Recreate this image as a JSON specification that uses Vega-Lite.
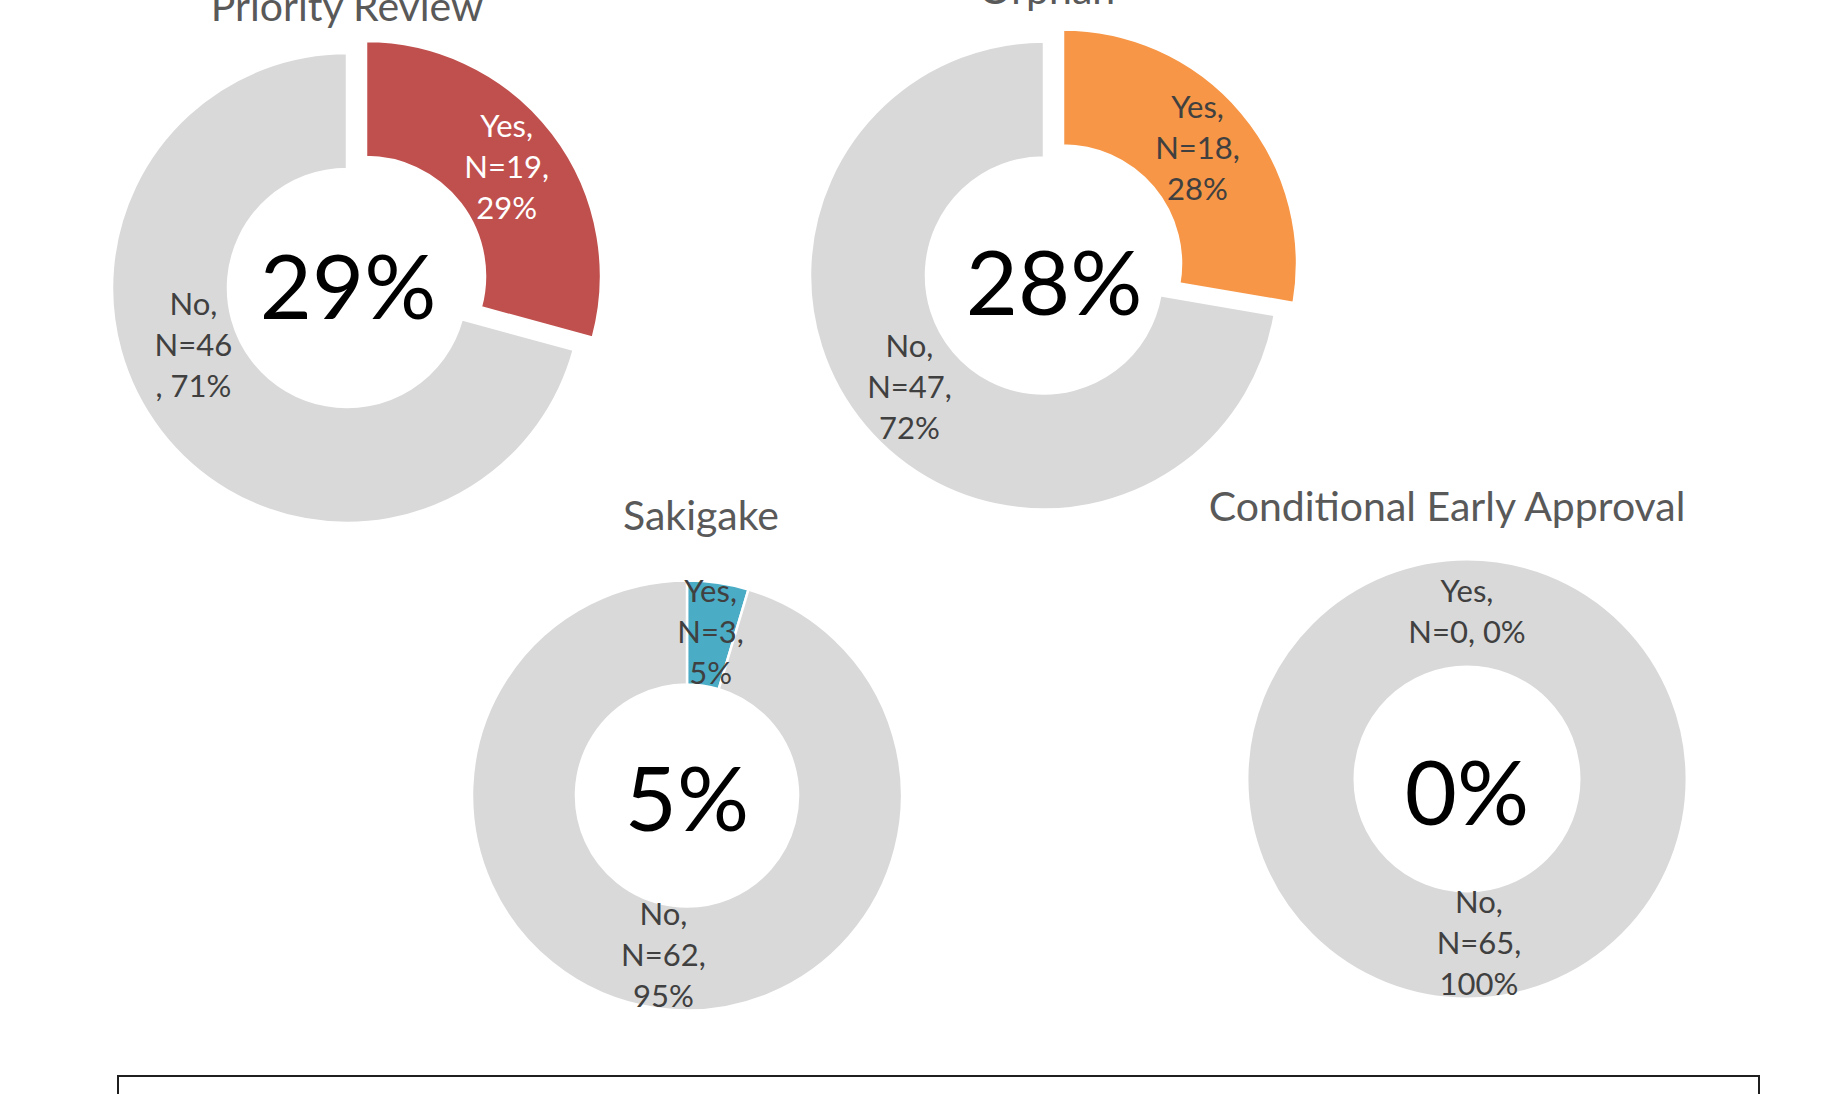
{
  "$schema": "https://vega.github.io/schema/vega-lite/v6.json",
  "padding": {"left": 0, "top": -30, "right": 0, "bottom": 0},
  "background": "#ffffff",
  "config": {
    "view": {"stroke": null},
    "font": "Lato",
    "title": {"font": "Lato", "fontSize": 41, "fontWeight": "normal", "color": "#595959", "baseline": "alphabetic", "anchor": "middle", "frame": "group"},
    "text": {"font": "Lato"}
  },
  "datasets": {
    "pr": [
      {"cat": "Yes", "n": 19, "label": "Yes,\nN=19,\n29%", "center": "29%"},
      {"cat": "No", "n": 46, "label": "No,\nN=46\n, 71%", "center": ""}
    ],
    "orphan": [
      {"cat": "Yes", "n": 18, "label": "Yes,\nN=18,\n28%", "center": "28%"},
      {"cat": "No", "n": 47, "label": "No,\nN=47,\n72%", "center": ""}
    ],
    "saki": [
      {"cat": "Yes", "n": 3, "label": "Yes,\nN=3,\n5%", "center": "5%"},
      {"cat": "No", "n": 62, "label": "No,\nN=62,\n95%", "center": ""}
    ],
    "cea": [
      {"cat": "Yes", "n": 0, "label": "Yes,\nN=0, 0%", "center": "0%"},
      {"cat": "No", "n": 65, "label": "No,\nN=65,\n100%", "center": ""}
    ],
    "blank": [{"t": ""}]
  },
  "columns": 1,
  "align": "each",
  "bounds": "full",
  "spacing": 31,
  "concat": [
    {
      "columns": 1,
      "align": "each",
      "bounds": "full",
      "spacing": -58,
      "concat": [
        {
          "spacing": 0,
          "bounds": "flush",
          "hconcat": [
            {
              "width": 694, "height": 516,
              "title": {"text": "Priority Review", "offset": 0},
              "data": {"name": "pr"},
              "layer": [
                {
                  "mark": {"type": "arc", "outerRadius": 235, "innerRadius": 119, "stroke": "#ffffff", "strokeWidth": 2.5},
                  "encoding": {
                    "theta": {"field": "n", "type": "quantitative", "stack": true},
                    "order": {"field": "cat", "sort": "descending"},
                    "color": {"value": "#D9D9D9"},
                    "opacity": {"condition": {"test": "datum.cat === 'Yes'", "value": 0}, "value": 1}
                  }
                },
                {
                  "transform": [{"filter": "datum.cat === 'Yes'"}],
                  "mark": {"type": "arc", "outerRadius": 235, "innerRadius": 119, "xOffset": 19, "yOffset": -12, "stroke": "#ffffff", "strokeWidth": 2.5},
                  "encoding": {
                    "theta": {"field": "n", "type": "quantitative", "stack": true},
                    "order": {"field": "cat", "sort": "descending"},
                    "color": {"value": "#C0504D"}
                  }
                },
                {
                  "mark": {"type": "text", "radius": 177, "fontSize": 31, "lineBreak": "\n", "lineHeight": 41, "align": "center", "baseline": "middle", "color": "#404040", "dx": -13, "dy": -89},
                  "encoding": {
                    "theta": {"field": "n", "type": "quantitative", "stack": true},
                    "order": {"field": "cat", "sort": "descending"},
                    "text": {"condition": {"test": "datum.cat === 'Yes'", "value": ""}, "field": "label"}
                  }
                },
                {
                  "transform": [{"filter": "datum.cat === 'Yes'"}],
                  "mark": {"type": "text", "radius": 177, "fontSize": 31, "lineBreak": "\n", "lineHeight": 41, "align": "center", "baseline": "middle", "color": "#ffffff", "xOffset": 19, "yOffset": -12, "dy": -41},
                  "encoding": {
                    "theta": {"field": "n", "type": "quantitative", "stack": true},
                    "order": {"field": "cat", "sort": "descending"},
                    "text": {"field": "label"}
                  }
                },
                {
                  "transform": [{"filter": "datum.cat === 'Yes'"}],
                  "mark": {"type": "text", "fontSize": 90, "align": "center", "baseline": "middle", "color": "#000000", "dx": 1, "dy": 4},
                  "encoding": {"text": {"field": "center"}}
                }
              ]
            },
            {
              "width": 700, "height": 491,
              "title": {"text": "Orphan", "offset": 12, "dx": 3},
              "data": {"name": "orphan"},
              "layer": [
                {
                  "mark": {"type": "arc", "outerRadius": 234, "innerRadius": 118, "stroke": "#ffffff", "strokeWidth": 2.5},
                  "encoding": {
                    "theta": {"field": "n", "type": "quantitative", "stack": true},
                    "order": {"field": "cat", "sort": "descending"},
                    "color": {"value": "#D9D9D9"},
                    "opacity": {"condition": {"test": "datum.cat === 'Yes'", "value": 0}, "value": 1}
                  }
                },
                {
                  "transform": [{"filter": "datum.cat === 'Yes'"}],
                  "mark": {"type": "arc", "outerRadius": 234, "innerRadius": 118, "xOffset": 19, "yOffset": -12, "stroke": "#ffffff", "strokeWidth": 2.5},
                  "encoding": {
                    "theta": {"field": "n", "type": "quantitative", "stack": true},
                    "order": {"field": "cat", "sort": "descending"},
                    "color": {"value": "#F79646"}
                  }
                },
                {
                  "mark": {"type": "text", "radius": 176, "fontSize": 31, "lineBreak": "\n", "lineHeight": 41, "align": "center", "baseline": "middle", "color": "#404040", "dy": -41},
                  "encoding": {
                    "theta": {"field": "n", "type": "quantitative", "stack": true},
                    "order": {"field": "cat", "sort": "descending"},
                    "text": {"condition": {"test": "datum.cat === 'Yes'", "value": ""}, "field": "label"}
                  }
                },
                {
                  "transform": [{"filter": "datum.cat === 'Yes'"}],
                  "mark": {"type": "text", "radius": 176, "fontSize": 31, "lineBreak": "\n", "lineHeight": 41, "align": "center", "baseline": "middle", "color": "#404040", "xOffset": 19, "yOffset": -12, "dy": -41},
                  "encoding": {
                    "theta": {"field": "n", "type": "quantitative", "stack": true},
                    "order": {"field": "cat", "sort": "descending"},
                    "text": {"field": "label"}
                  }
                },
                {
                  "transform": [{"filter": "datum.cat === 'Yes'"}],
                  "mark": {"type": "text", "fontSize": 90, "align": "center", "baseline": "middle", "color": "#000000", "dx": 10, "dy": 12},
                  "encoding": {"text": {"field": "center"}}
                }
              ]
            }
          ]
        },
        {
          "spacing": 0,
          "bounds": "flush",
          "hconcat": [
            {
              "width": 1374, "height": 487,
              "title": {"text": "Sakigake", "offset": 13, "dx": 14},
              "data": {"name": "saki"},
              "layer": [
                {
                  "mark": {"type": "arc", "outerRadius": 215, "innerRadius": 111, "stroke": "#ffffff", "strokeWidth": 2.5},
                  "encoding": {
                    "theta": {"field": "n", "type": "quantitative", "stack": true},
                    "order": {"field": "cat", "sort": "descending"},
                    "color": {"condition": {"test": "datum.cat === 'Yes'", "value": "#4BACC6"}, "value": "#D9D9D9"}
                  }
                },
                {
                  "mark": {"type": "text", "radius": 163, "fontSize": 31, "lineBreak": "\n", "lineHeight": 41, "align": "center", "baseline": "middle", "color": "#404040", "dy": -41},
                  "encoding": {
                    "theta": {"field": "n", "type": "quantitative", "stack": true},
                    "order": {"field": "cat", "sort": "descending"},
                    "text": {"field": "label"}
                  }
                },
                {
                  "transform": [{"filter": "datum.cat === 'Yes'"}],
                  "mark": {"type": "text", "fontSize": 90, "align": "center", "baseline": "middle", "color": "#000000", "dx": 0, "dy": 8},
                  "encoding": {"text": {"field": "center"}}
                }
              ]
            },
            {
              "width": 186, "height": 454,
              "title": {"text": "Conditional Early Approval", "offset": 22, "dx": -20},
              "data": {"name": "cea"},
              "layer": [
                {
                  "mark": {"type": "arc", "outerRadius": 220, "innerRadius": 112, "stroke": "#ffffff", "strokeWidth": 3},
                  "encoding": {
                    "theta": {"field": "n", "type": "quantitative", "stack": true},
                    "order": {"field": "cat", "sort": "descending"},
                    "color": {"value": "#D9D9D9"}
                  }
                },
                {
                  "transform": [{"filter": "datum.cat === 'Yes'"}],
                  "mark": {"type": "text", "radius": 166, "fontSize": 31, "lineBreak": "\n", "lineHeight": 41, "align": "center", "baseline": "middle", "color": "#404040", "dy": -20},
                  "encoding": {
                    "theta": {"field": "n", "type": "quantitative", "stack": true},
                    "order": {"field": "cat", "sort": "descending"},
                    "text": {"field": "label"}
                  }
                },
                {
                  "mark": {"type": "text", "radius": 166, "fontSize": 31, "lineBreak": "\n", "lineHeight": 41, "align": "center", "baseline": "middle", "color": "#404040", "dx": 12, "dy": -41},
                  "encoding": {
                    "theta": {"field": "n", "type": "quantitative", "stack": true},
                    "order": {"field": "cat", "sort": "descending"},
                    "text": {"condition": {"test": "datum.cat === 'Yes'", "value": ""}, "field": "label"}
                  }
                },
                {
                  "transform": [{"filter": "datum.cat === 'Yes'"}],
                  "mark": {"type": "text", "fontSize": 90, "align": "center", "baseline": "middle", "color": "#000000", "dx": 0, "dy": 19},
                  "encoding": {"text": {"field": "center"}}
                }
              ]
            }
          ]
        }
      ]
    },
    {
      "spacing": 0,
      "bounds": "flush",
      "hconcat": [
        {
          "width": 118, "height": 1,
          "data": {"name": "blank"},
          "mark": "text",
          "encoding": {"text": {"field": "t"}}
        },
        {
          "width": 1641, "height": 150,
          "view": {"stroke": "#1f1f1f", "strokeWidth": 2},
          "data": {"name": "blank"},
          "mark": "text",
          "encoding": {"text": {"field": "t"}}
        }
      ]
    }
  ]
}
